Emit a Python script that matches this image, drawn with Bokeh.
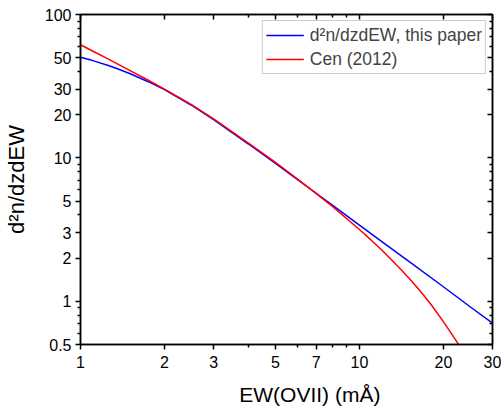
from bokeh.plotting import figure
from bokeh.models import (LogAxis, FixedTicker, Legend, LegendItem,
                          Range1d, CustomJSTickFormatter)
from bokeh.embed import file_html
from bokeh.resources import INLINE

# --- data ---
ew_this = [1, 1.1, 1.25, 1.35, 1.5, 1.75, 2, 2.5, 3, 4, 5, 6, 7, 8, 10, 12, 15, 20, 25, 30]
dn_this = [50.4, 47.9, 44.3, 42.0, 38.8, 34.0, 29.9, 23.3, 18.5, 12.5, 9.15, 7.06, 5.67,
           4.69, 3.40, 2.62, 1.906, 1.264, 0.913, 0.704]

ew_cen = [1, 1.1, 1.25, 1.5, 1.75, 2, 2.5, 3, 4, 5, 6, 7, 8, 10, 11, 12, 13, 14, 15,
          16, 17, 18, 19, 20, 21, 22, 23, 25]
dn_cen = [61.5, 55.9, 49.2, 40.8, 34.8, 30.2, 23.5, 18.7, 12.7, 9.3, 7.12, 5.64, 4.59,
          3.17, 2.68, 2.29, 1.959, 1.686, 1.459, 1.267, 1.101, 0.957, 0.830, 0.721,
          0.627, 0.547, 0.480, 0.369]

x_major = [1, 2, 3, 5, 7, 10, 20, 30]
x_minor = [4, 6, 8, 9]
y_major = [0.5, 1, 2, 3, 5, 10, 20, 30, 50, 100]
y_minor = [0.6, 0.7, 0.8, 0.9, 4, 6, 7, 8, 9, 40, 60, 70, 80, 90]

label_this = "d\u00b2n/dzdEW, this paper"
label_cen = "Cen (2012)"
x_title = "\u00a0" * 8 + "EW(OVII) (m\u00c5)"
y_title = "d\u00b2n/dzdEW"

FONT = "Liberation Sans"

p = figure(width=501, height=408, x_axis_type="log", y_axis_type="log",
           x_range=Range1d(1, 30), y_range=Range1d(0.5, 100),
           output_backend="svg", toolbar_location=None,
           min_border_left=76, min_border_right=9, min_border_top=14,
           min_border_bottom=59)
p.xgrid.visible = False
p.ygrid.visible = False
p.outline_line_color = "black"
p.outline_line_width = 1.5

fmt = CustomJSTickFormatter(code="return String(tick);")
blank = CustomJSTickFormatter(code="return '';")
xt = FixedTicker(ticks=x_major, minor_ticks=x_minor)
yt = FixedTicker(ticks=y_major, minor_ticks=y_minor)

for ax, t in ((p.xaxis[0], xt), (p.yaxis[0], yt)):
    ax.ticker = t
    ax.formatter = fmt
    ax.axis_line_width = 1.5
    ax.major_tick_line_width = 1.5
    ax.minor_tick_line_width = 1.5
    ax.major_tick_out = 5
    ax.major_tick_in = 0
    ax.minor_tick_out = 3
    ax.minor_tick_in = 0
    ax.major_label_text_font = FONT
    ax.major_label_text_font_size = "16px"
    ax.major_label_text_color = "black"
    ax.axis_label_text_font = FONT
    ax.axis_label_text_font_style = "normal"
    ax.axis_label_text_color = "black"

p.xaxis[0].axis_label = x_title
p.xaxis[0].axis_label_text_font_size = "21px"
p.xaxis[0].major_label_standoff = 6
p.xaxis[0].axis_label_standoff = 12
p.yaxis[0].axis_label = y_title
p.yaxis[0].axis_label_text_font_size = "22px"
p.yaxis[0].major_label_standoff = 4
p.yaxis[0].axis_label_standoff = 13

for loc, t in (("above", xt), ("right", yt)):
    ax = LogAxis(ticker=t, formatter=blank, major_label_text_font_size="1px",
                 major_label_standoff=0,
                 major_tick_in=5, major_tick_out=0, minor_tick_in=3, minor_tick_out=0,
                 axis_line_width=1.5, major_tick_line_width=1.5, minor_tick_line_width=1.5)
    p.add_layout(ax, loc)

r1 = p.line(ew_this, dn_this, line_color="#0000FF", line_width=1.5)
r2 = p.line(ew_cen, dn_cen, line_color="#FF0000", line_width=1.5)

legend = Legend(items=[LegendItem(label=label_this, renderers=[r1]),
                       LegendItem(label=label_cen, renderers=[r2])],
                location="top_right", margin=6, padding=3, spacing=2,
                label_text_font=FONT, label_text_font_size="17.5px",
                label_height=22, glyph_width=38, glyph_height=22, label_standoff=6,
                border_line_color="#999999", border_line_width=1,
                background_fill_color="white", background_fill_alpha=1)
p.add_layout(legend)

open("out.html", "w").write(file_html(p, INLINE))
